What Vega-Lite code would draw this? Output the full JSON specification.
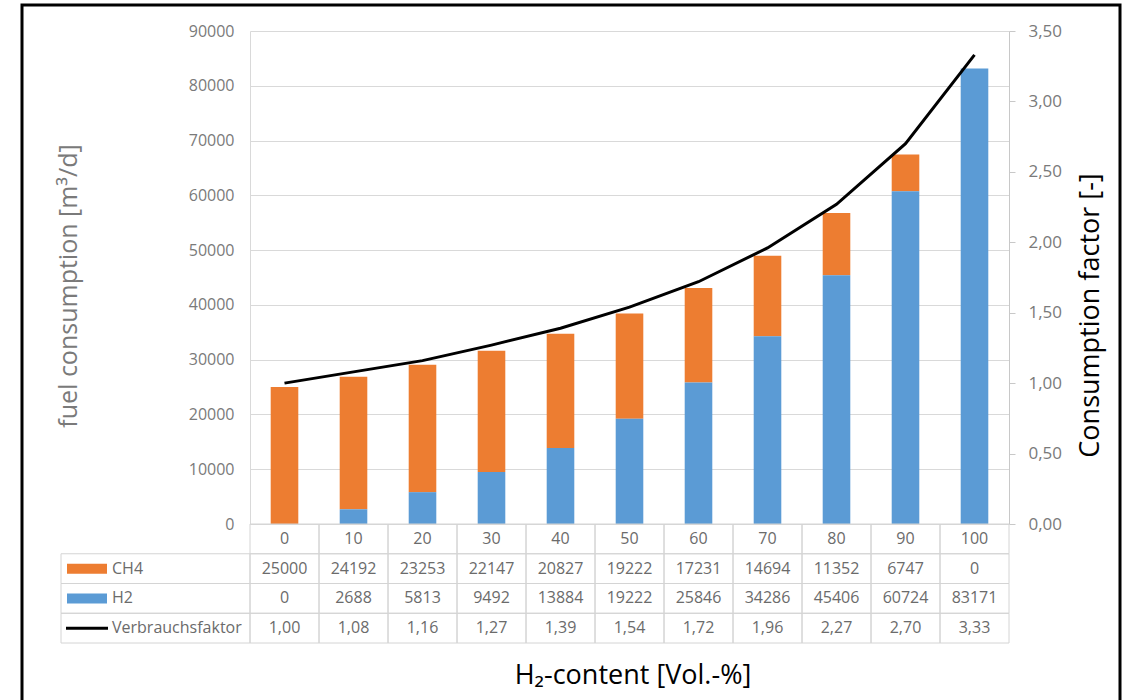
{
  "$schema": "https://vega.github.io/schema/vega-lite/v6.json",
  "width": 1098,
  "height": 700,
  "autosize": {"type": "none"},
  "padding": {"left": 22, "top": 5, "right": 3, "bottom": 0},
  "background": "white",
  "config": {
    "font": "Open Sans",
    "view": {"stroke": "black", "strokeWidth": 3},
    "locale": {"number": {"decimal": ",", "thousands": ".", "grouping": [3], "currency": ["", " €"]}},
    "axis": {"labelFont": "Open Sans", "titleFont": "Open Sans", "titleFontWeight": "normal"}
  },
  "data": {
    "values": [
      {"h2": 0, "series": "CH4", "value": 25000},
      {"h2": 10, "series": "CH4", "value": 24192},
      {"h2": 20, "series": "CH4", "value": 23253},
      {"h2": 30, "series": "CH4", "value": 22147},
      {"h2": 40, "series": "CH4", "value": 20827},
      {"h2": 50, "series": "CH4", "value": 19222},
      {"h2": 60, "series": "CH4", "value": 17231},
      {"h2": 70, "series": "CH4", "value": 14694},
      {"h2": 80, "series": "CH4", "value": 11352},
      {"h2": 90, "series": "CH4", "value": 6747},
      {"h2": 100, "series": "CH4", "value": 0},
      {"h2": 0, "series": "H2", "value": 0},
      {"h2": 10, "series": "H2", "value": 2688},
      {"h2": 20, "series": "H2", "value": 5813},
      {"h2": 30, "series": "H2", "value": 9492},
      {"h2": 40, "series": "H2", "value": 13884},
      {"h2": 50, "series": "H2", "value": 19222},
      {"h2": 60, "series": "H2", "value": 25846},
      {"h2": 70, "series": "H2", "value": 34286},
      {"h2": 80, "series": "H2", "value": 45406},
      {"h2": 90, "series": "H2", "value": 60724},
      {"h2": 100, "series": "H2", "value": 83171},
      {"h2": 0, "series": "Verbrauchsfaktor", "value": 1.00},
      {"h2": 10, "series": "Verbrauchsfaktor", "value": 1.08},
      {"h2": 20, "series": "Verbrauchsfaktor", "value": 1.16},
      {"h2": 30, "series": "Verbrauchsfaktor", "value": 1.27},
      {"h2": 40, "series": "Verbrauchsfaktor", "value": 1.39},
      {"h2": 50, "series": "Verbrauchsfaktor", "value": 1.54},
      {"h2": 60, "series": "Verbrauchsfaktor", "value": 1.72},
      {"h2": 70, "series": "Verbrauchsfaktor", "value": 1.96},
      {"h2": 80, "series": "Verbrauchsfaktor", "value": 2.27},
      {"h2": 90, "series": "Verbrauchsfaktor", "value": 2.70},
      {"h2": 100, "series": "Verbrauchsfaktor", "value": 3.33}
    ]
  },
  "layer": [
    {
      "transform": [{"filter": "datum.series !== 'Verbrauchsfaktor'"}],
      "mark": {"type": "bar", "width": {"band": 0.4}},
      "encoding": {
        "x": {
          "field": "h2", "type": "ordinal",
          "scale": {"type": "band", "range": [228, 987], "paddingInner": 0, "paddingOuter": 0},
          "axis": {
            "orient": "bottom", "labels": false, "ticks": false, "domain": false, "grid": false,
            "title": "H₂-content [Vol.-%]", "titleFontSize": 27, "titleColor": "black",
            "titleX": 610.5, "titleY": -22, "titleAlign": "center", "titleBaseline": "alphabetic"
          }
        },
        "y": {
          "field": "value", "type": "quantitative",
          "scale": {"domain": [0, 90000], "range": [519, 26], "nice": false, "zero": true},
          "axis": {
            "orient": "left", "offset": -228,
            "values": [0, 10000, 20000, 30000, 40000, 50000, 60000, 70000, 80000, 90000],
            "format": "d", "grid": true, "gridColor": "#d9d9d9", "gridWidth": 1,
            "domain": true, "domainColor": "#d9d9d9", "ticks": false,
            "labelPadding": 16, "labelFontSize": 16, "labelColor": "#7a7a7a",
            "title": "fuel consumption [m³/d]", "titleFontSize": 25, "titleColor": "#7a7a7a",
            "titleAngle": 270, "titleX": -174, "titleY": 280.5,
            "titleAlign": "center", "titleBaseline": "alphabetic"
          }
        },
        "color": {
          "field": "series", "type": "nominal",
          "scale": {"domain": ["CH4", "H2"], "range": ["#ED7D31", "#5B9BD5"]},
          "legend": null
        },
        "order": {"field": "series", "sort": "descending"}
      }
    },
    {
      "transform": [{"filter": "datum.series === 'Verbrauchsfaktor'"}],
      "mark": {"type": "line", "color": "black", "strokeWidth": 3},
      "encoding": {
        "x": {
          "field": "h2", "type": "ordinal",
          "scale": {"type": "point", "range": [228, 987], "padding": 0.5},
          "axis": null
        },
        "y": {
          "field": "value", "type": "quantitative",
          "scale": {"domain": [0, 3.5], "range": [519, 26], "nice": false},
          "axis": {
            "orient": "right", "offset": -111,
            "values": [0, 0.5, 1, 1.5, 2, 2.5, 3, 3.5],
            "format": ".2f", "grid": false,
            "domain": true, "domainColor": "#c8c8c8",
            "ticks": true, "tickColor": "#c8c8c8", "tickSize": 6,
            "labelPadding": 13, "labelFontSize": 17, "labelColor": "#7a7a7a",
            "title": "Consumption factor [-]", "titleFontSize": 27, "titleColor": "black",
            "titleAngle": 270, "titleX": 89.5, "titleY": 310,
            "titleAlign": "center", "titleBaseline": "alphabetic"
          }
        }
      }
    },
    {
      "mark": {"type": "rect", "filled": false, "color": "#d4d4d4", "strokeWidth": 1},
      "encoding": {
        "x": {
          "field": "h2", "type": "ordinal",
          "scale": {"type": "band", "range": [228, 987], "paddingInner": 0, "paddingOuter": 0},
          "axis": null
        },
        "y": {
          "field": "series", "type": "nominal",
          "scale": {"type": "band", "domain": ["content", "CH4", "H2", "Verbrauchsfaktor"], "range": [519, 638], "paddingInner": 0, "paddingOuter": 0},
          "axis": null
        }
      }
    },
    {
      "transform": [{"filter": "datum.series === 'CH4'"}],
      "mark": {"type": "rect", "filled": false, "color": "#d4d4d4", "strokeWidth": 1},
      "encoding": {
        "x": {
          "field": "h2", "type": "ordinal",
          "scale": {"type": "band", "range": [228, 987], "paddingInner": 0, "paddingOuter": 0},
          "axis": null
        },
        "y": {
          "datum": "content", "type": "nominal",
          "scale": {"type": "band", "domain": ["content", "CH4", "H2", "Verbrauchsfaktor"], "range": [519, 638], "paddingInner": 0, "paddingOuter": 0},
          "axis": null
        }
      }
    },
    {
      "transform": [{"filter": "datum.h2 === 0"}],
      "mark": {"type": "rect", "filled": false, "color": "#d4d4d4", "strokeWidth": 1},
      "encoding": {
        "x": {
          "datum": "label", "type": "nominal",
          "scale": {"type": "band", "domain": ["label"], "range": [39, 228], "paddingInner": 0, "paddingOuter": 0},
          "axis": null
        },
        "y": {
          "field": "series", "type": "nominal",
          "scale": {"type": "band", "domain": ["content", "CH4", "H2", "Verbrauchsfaktor"], "range": [519, 638], "paddingInner": 0, "paddingOuter": 0},
          "axis": null
        }
      }
    },
    {
      "transform": [{"filter": "datum.series === 'CH4'"}],
      "mark": {"type": "text", "fontSize": 16, "color": "#6b6b6b", "baseline": "middle"},
      "encoding": {
        "x": {
          "field": "h2", "type": "ordinal",
          "scale": {"type": "point", "range": [228, 987], "padding": 0.5},
          "axis": null
        },
        "y": {
          "datum": "content", "type": "nominal",
          "scale": {"type": "band", "domain": ["content", "CH4", "H2", "Verbrauchsfaktor"], "range": [519, 638], "paddingInner": 0, "paddingOuter": 0},
          "axis": null
        },
        "text": {"field": "h2", "type": "quantitative", "format": "d"}
      }
    },
    {
      "transform": [{"filter": "datum.series !== 'Verbrauchsfaktor'"}],
      "mark": {"type": "text", "fontSize": 16, "color": "#6b6b6b", "baseline": "middle"},
      "encoding": {
        "x": {
          "field": "h2", "type": "ordinal",
          "scale": {"type": "point", "range": [228, 987], "padding": 0.5},
          "axis": null
        },
        "y": {
          "field": "series", "type": "nominal",
          "scale": {"type": "band", "domain": ["content", "CH4", "H2", "Verbrauchsfaktor"], "range": [519, 638], "paddingInner": 0, "paddingOuter": 0},
          "axis": null
        },
        "text": {"field": "value", "type": "quantitative", "format": "d"}
      }
    },
    {
      "transform": [{"filter": "datum.series === 'Verbrauchsfaktor'"}],
      "mark": {"type": "text", "fontSize": 16, "color": "#6b6b6b", "baseline": "middle"},
      "encoding": {
        "x": {
          "field": "h2", "type": "ordinal",
          "scale": {"type": "point", "range": [228, 987], "padding": 0.5},
          "axis": null
        },
        "y": {
          "field": "series", "type": "nominal",
          "scale": {"type": "band", "domain": ["content", "CH4", "H2", "Verbrauchsfaktor"], "range": [519, 638], "paddingInner": 0, "paddingOuter": 0},
          "axis": null
        },
        "text": {"field": "value", "type": "quantitative", "format": ".2f"}
      }
    },
    {
      "transform": [{"filter": "datum.h2 === 0"}],
      "mark": {"type": "point", "filled": true, "size": 40000, "strokeWidth": 0, "opacity": 1},
      "encoding": {
        "x": {
          "datum": "label", "type": "nominal",
          "scale": {"type": "band", "domain": ["label"], "range": [39, 228], "paddingInner": 0, "paddingOuter": 0},
          "axis": null
        },
        "y": {
          "field": "series", "type": "nominal",
          "scale": {"type": "band", "domain": ["content", "CH4", "H2", "Verbrauchsfaktor"], "range": [519, 638], "paddingInner": 0, "paddingOuter": 0},
          "axis": null
        },
        "color": {
          "field": "series", "type": "nominal",
          "scale": {"domain": ["CH4", "H2", "Verbrauchsfaktor"], "range": ["#ED7D31", "#5B9BD5", "#000000"]},
          "legend": null
        },
        "shape": {
          "field": "series", "type": "nominal",
          "scale": {
            "domain": ["CH4", "H2", "Verbrauchsfaktor"],
            "range": ["M-0.885,-0.05H-0.485V0.05H-0.885Z", "M-0.885,-0.05H-0.485V0.05H-0.885Z", "M-0.895,-0.015H-0.475V0.015H-0.895Z"]
          },
          "legend": null
        }
      }
    },
    {
      "transform": [{"filter": "datum.h2 === 0"}],
      "mark": {"type": "text", "fontSize": 16, "color": "#6b6b6b", "align": "left", "baseline": "middle", "dx": -43.5},
      "encoding": {
        "x": {
          "datum": "label", "type": "nominal",
          "scale": {"type": "band", "domain": ["label"], "range": [39, 228], "paddingInner": 0, "paddingOuter": 0},
          "axis": null
        },
        "y": {
          "field": "series", "type": "nominal",
          "scale": {"type": "band", "domain": ["content", "CH4", "H2", "Verbrauchsfaktor"], "range": [519, 638], "paddingInner": 0, "paddingOuter": 0},
          "axis": null
        },
        "text": {"field": "series", "type": "nominal"}
      }
    }
  ],
  "resolve": {"scale": {"x": "independent", "y": "independent", "color": "independent", "shape": "independent"}}
}
